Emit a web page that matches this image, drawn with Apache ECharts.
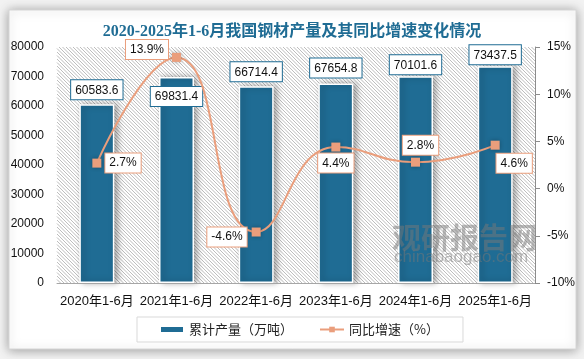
<!DOCTYPE html>
<html><head><meta charset="utf-8">
<script src="https://cdn.jsdelivr.net/npm/echarts@6/dist/echarts.min.js"></script>
<style>html,body{margin:0;padding:0;background:#fff;}#c{width:584px;height:359px;}</style>
</head><body><div id="c"></div>
<script>
var categories = ['2020年1-6月','2021年1-6月','2022年1-6月','2023年1-6月','2024年1-6月','2025年1-6月'];
var output = [60583.6, 69831.4, 66714.4, 67654.8, 70101.6, 73437.5];
var growth = [2.7, 13.9, -4.6, 4.4, 2.8, 4.6];
var leftTicks = {min: 0, max: 80000, interval: 10000};
var rightTicks = {min: -10, max: 15, interval: 5};

var barColor = '#1F6C94', lineColor = '#EA9E7C';
var G = {left:57, top:47, right:535, bottom:283};

// hatch background of plot area: diagonal "\" lines clipped to the grid rectangle
var hatch = [];
for (var c = -(G.bottom - G.top); c <= (G.right - G.left); c += 3.5) {
  var x1 = Math.max(G.left, G.left + c), y1 = x1 - G.left - c + G.top;
  var x2 = Math.min(G.right, G.left + c + (G.bottom - G.top)), y2 = x2 - G.left - c + G.top;
  if (x2 - x1 < 0.5) continue;
  hatch.push({type:'line', silent:true, z:1, shape:{x1:x1,y1:y1,x2:x2,y2:y2}, style:{stroke:'#bdbdbd', lineWidth:1}});
}

var barLabelCfg = [
  {position:'top', distance:5},
  {position:'insideTop', distance:10},
  {position:'top', distance:5},
  {position:'top', distance:6},
  {position:'top', distance:2},
  {position:'top', distance:2}
];
var lineLabelCfg = [
  {position:'right', distance:4, offset:[0,0]},
  {position:'left', distance:4, offset:[0,-8]},
  {position:'left', distance:5, offset:[0,5]},
  {position:'bottom', distance:2, offset:[0,0]},
  {position:'top', distance:3, offset:[5,0]},
  {position:'bottom', distance:4, offset:[19,0]}
];

var boxBase = {show:true, color:'#111', fontSize:12, fontFamily:'Liberation Sans, Noto Sans CJK SC, sans-serif', backgroundColor:'#fff', borderWidth:1, padding:[4,4,3,4]};

var barData = output.map(function(v,i){
  return {value:v, label:Object.assign({}, boxBase, {borderColor:barColor}, barLabelCfg[i])};
});
var lineData = growth.map(function(v,i){
  return {value:v, label:Object.assign({}, boxBase, {borderColor:lineColor}, lineLabelCfg[i], {formatter: v.toFixed(1)+'%'})};
});

var elements = [
  {type:'rect', z:0, silent:true, shape:{x:9,y:10,width:567,height:339}, style:{fill:'#ffffff', stroke:'#d6d6d6', lineWidth:1, shadowBlur:10, shadowColor:'rgba(0,0,0,0.35)', shadowOffsetY:1}}
].concat(hatch).concat([
  {type:'text', z:100, silent:true, left:392, top:223, style:{text:'观研报告网', font:'bold 29px "Noto Sans CJK SC", sans-serif', fill:'rgba(120,120,120,0.5)'}},
  {type:'text', z:100, silent:true, left:394, top:249, style:{text:'chinabaogao.com', font:'17px "Liberation Sans", sans-serif', fill:'rgba(120,120,120,0.5)'}}
]);

var chart = echarts.init(document.getElementById('c'), null, {renderer:'canvas'});
chart.setOption({
  animation:false,
  backgroundColor:'#f2f2f2',
  graphic:{elements:elements},
  title:{
    text:'2020-2025年1-6月我国钢材产量及其同比增速变化情况',
    left:'center', top:19,
    textStyle:{color:'#1F6C94', fontSize:16, fontWeight:'bold', fontFamily:'"Liberation Serif", "Noto Sans CJK SC", serif'}
  },
  legend:{
    left:137, top:317, padding:[6,24,6,22], itemGap:26, itemWidth:24, itemHeight:7,
    borderColor:'#d9d9d9', borderWidth:1,
    textStyle:{fontSize:13, color:'#222', fontFamily:'"Noto Sans CJK SC", sans-serif'},
    data:[{name:'累计产量（万吨）', icon:'rect'}, {name:'同比增速（%）'}]
  },
  grid:{left:G.left, right:584-G.right, top:G.top, bottom:359-G.bottom},
  xAxis:{
    type:'category', data:categories, z:5,
    axisLine:{lineStyle:{color:'#a6a6a6', width:1}},
    axisTick:{show:false},
    axisLabel:{color:'#111', fontSize:13, margin:12, interval:0, fontFamily:'"Liberation Sans", "Noto Sans CJK SC", sans-serif'}
  },
  yAxis:[
    {type:'value', min:leftTicks.min, max:leftTicks.max, interval:leftTicks.interval,
     axisLine:{show:false}, axisTick:{show:false}, splitLine:{show:false},
     axisLabel:{color:'#111', fontSize:12, margin:13, formatter:function(v){return String(v);}, fontFamily:'"Liberation Sans", sans-serif'}},
    {type:'value', min:rightTicks.min, max:rightTicks.max, interval:rightTicks.interval, position:'right', z:5,
     axisLine:{show:true, lineStyle:{color:'#8c8c8c'}}, axisTick:{show:true, length:5, lineStyle:{color:'#8c8c8c'}}, splitLine:{show:false},
     axisLabel:{color:'#111', fontSize:12, margin:12, formatter:'{value}%', fontFamily:'"Liberation Sans", sans-serif'}}
  ],
  series:[
    {name:'累计产量（万吨）', type:'bar', yAxisIndex:0, data:barData, barWidth:35, z:3,
     itemStyle:{color:barColor, borderColor:'#fff', borderWidth:1.5, shadowBlur:6, shadowOffsetX:3, shadowOffsetY:0, shadowColor:'rgba(0,0,0,0.35)'}},
    {name:'同比增速（%）', type:'line', yAxisIndex:1, data:lineData, smooth:0.5, z:4,
     symbol:'rect', symbolSize:9,
     lineStyle:{color:lineColor, width:2},
     itemStyle:{color:lineColor, shadowBlur:4, shadowColor:'rgba(0,0,0,0.3)'}}
  ]
});
</script></body></html>
